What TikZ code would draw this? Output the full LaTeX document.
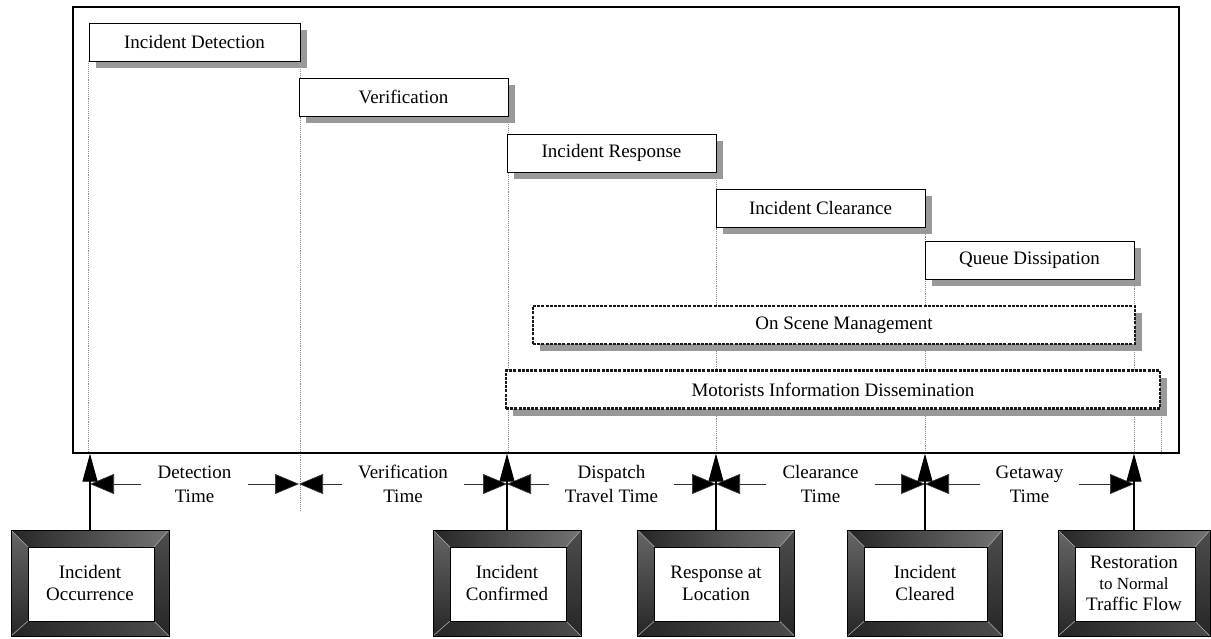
\documentclass[tikz,border=0pt]{standalone}
\usepackage{fontspec}
\setmainfont{Liberation Serif}
\usetikzlibrary{arrows.meta,shadows,calc}
\pgfdeclarelayer{bg}
\pgfsetlayers{bg,main}
\begin{document}
\begin{tikzpicture}[x=1pt,y=-1pt,
  every node/.style={font=\fontsize{19}{22}\selectfont},
  phase/.style={draw=black,line width=0.9pt,fill=white,minimum height=38pt,inner sep=0pt,
     drop shadow={shadow xshift=7pt,shadow yshift=-7pt,fill=black!40,opacity=1}},
  dphase/.style={phase,draw=black!90,line width=2.2pt,dash pattern=on 3pt off 1.2pt},
  vline/.style={draw=black!45,densely dotted,line width=0.9pt},
  span/.style={draw=black!80,line width=0.7pt,-{Triangle[length=24pt,width=20pt,fill=black]}},
  uparr/.style={draw=black,line width=1.1pt,-{Triangle[length=28pt,width=15pt]}},
  lbl/.style={align=center,inner xsep=16pt,inner ysep=0pt,font=\fontsize{19}{24}\selectfont},
  mile/.style={minimum height=106pt,align=center,inner sep=0pt,fill=white,draw=black,line width=1pt,
    path picture={
      \coordinate (pa) at (path picture bounding box.north west);
      \coordinate (pb) at (path picture bounding box.north east);
      \coordinate (pc) at (path picture bounding box.south east);
      \coordinate (pd) at (path picture bounding box.south west);
      \coordinate (qa) at ([xshift=17pt,yshift=-17pt]pa);
      \coordinate (qb) at ([xshift=-15pt,yshift=-17pt]pb);
      \coordinate (qc) at ([xshift=-15pt,yshift=15pt]pc);
      \coordinate (qd) at ([xshift=17pt,yshift=15pt]pd);
      \shade[left color=black!85,right color=black!55] (pa)--(pb)--(qb)--(qa)--cycle;
      \shade[top color=black!60,bottom color=black!85] (pa)--(qa)--(qd)--(pd)--cycle;
      \shade[top color=black!70,bottom color=black!85] (pb)--(pc)--(qc)--(qb)--cycle;
      \shade[left color=black!85,right color=black!70] (pd)--(qd)--(qc)--(pc)--cycle;
      \draw[black!35,line width=0.6pt] (pa)--(qa) (pb)--(qb) (pc)--(qc) (pd)--(qd);
      \draw[black,line width=1pt] (qa) rectangle (qc);
    }}
]
\useasboundingbox (0,0) rectangle (1211,639);

% outer frame
\node[draw,line width=1.2pt,minimum width=1106pt,minimum height=446pt,inner sep=0pt] (frame) at (626,230) {};

% phase boxes
\node[phase,minimum width=211pt] (p1) at (194.5,42) {Incident Detection};
\node[phase,minimum width=209pt] (p2) at (403.5,97) {Verification};
\node[phase,minimum width=209pt] (p3) at (611.5,153) {Incident Response};
\node[phase,minimum width=209pt] (p4) at (820.5,208.5) {Incident Clearance};
\node[phase,minimum width=209pt] (p5) at (1029.5,260.5) {Queue Dissipation};
\node[dphase,minimum width=602pt] (p6) at (834,325) {\hspace*{20pt}On Scene Management};
\node[dphase,minimum width=654pt] (p7) at (833,389.5) {Motorists Information Dissemination};

% dotted time lines
\begin{pgfonlayer}{bg}
\draw[vline] (p1.south west) -- (p1.south west |- frame.south);
\draw[vline] (p1.south east) -- ($(p1.south east |- frame.south)+(0,57)$);
\draw[vline] (p2.south east) -- (p2.south east |- frame.south);
\draw[vline] (p3.south east) -- (p3.south east |- frame.south);
\draw[vline] (p4.south east) -- (p4.south east |- frame.south);
\draw[vline] (p5.south east) -- (p5.south east |- frame.south);
\draw[vline] (p7.south east) -- (p7.south east |- frame.south);
\end{pgfonlayer}

% span end points
\coordinate (v1) at (90,484);
\coordinate (v2) at (299,484);
\coordinate (v3) at (507,484);
\coordinate (v4) at (716,484);
\coordinate (v5) at (925,484);
\coordinate (v6) at (1134,484);

% time labels
\node[lbl] (t1) at (194.5,484) {Detection\\Time};
\node[lbl] (t2) at (403,484) {Verification\\Time};
\node[lbl] (t3) at (611.5,484) {Dispatch\\Travel Time};
\node[lbl] (t4) at (820.5,484) {Clearance\\Time};
\node[lbl] (t5) at (1029.5,484) {Getaway\\Time};

\draw[span] (t1.west) -- (v1);
\draw[span] (t1.east) -- (v2);
\draw[span] (t2.west) -- (v2);
\draw[span] (t2.east) -- (v3);
\draw[span] (t3.west) -- (v3);
\draw[span] (t3.east) -- (v4);
\draw[span] (t4.west) -- (v4);
\draw[span] (t4.east) -- (v5);
\draw[span] (t5.west) -- (v5);
\draw[span] (t5.east) -- (v6);

% milestones
\node[mile,minimum width=158pt] (m1) at (90,583) {Incident\\Occurrence};
\node[mile,minimum width=148pt] (m2) at (507,583) {Incident\\Confirmed};
\node[mile,minimum width=157pt] (m3) at (716,583) {Response at\\Location};
\node[mile,minimum width=155pt] (m4) at (925,583) {Incident\\Cleared};
\node[mile,minimum width=152pt,font=\fontsize{19}{21}\selectfont] (m5) at (1134,583) {Restoration\\{\fontsize{17}{21}\selectfont to Normal}\\Traffic Flow};

\draw[uparr] (m1.north) -- (m1.north |- frame.south);
\draw[uparr] (m2.north) -- (m2.north |- frame.south);
\draw[uparr] (m3.north) -- (m3.north |- frame.south);
\draw[uparr] (m4.north) -- (m4.north |- frame.south);
\draw[uparr] (m5.north) -- (m5.north |- frame.south);
\end{tikzpicture}
\end{document}
